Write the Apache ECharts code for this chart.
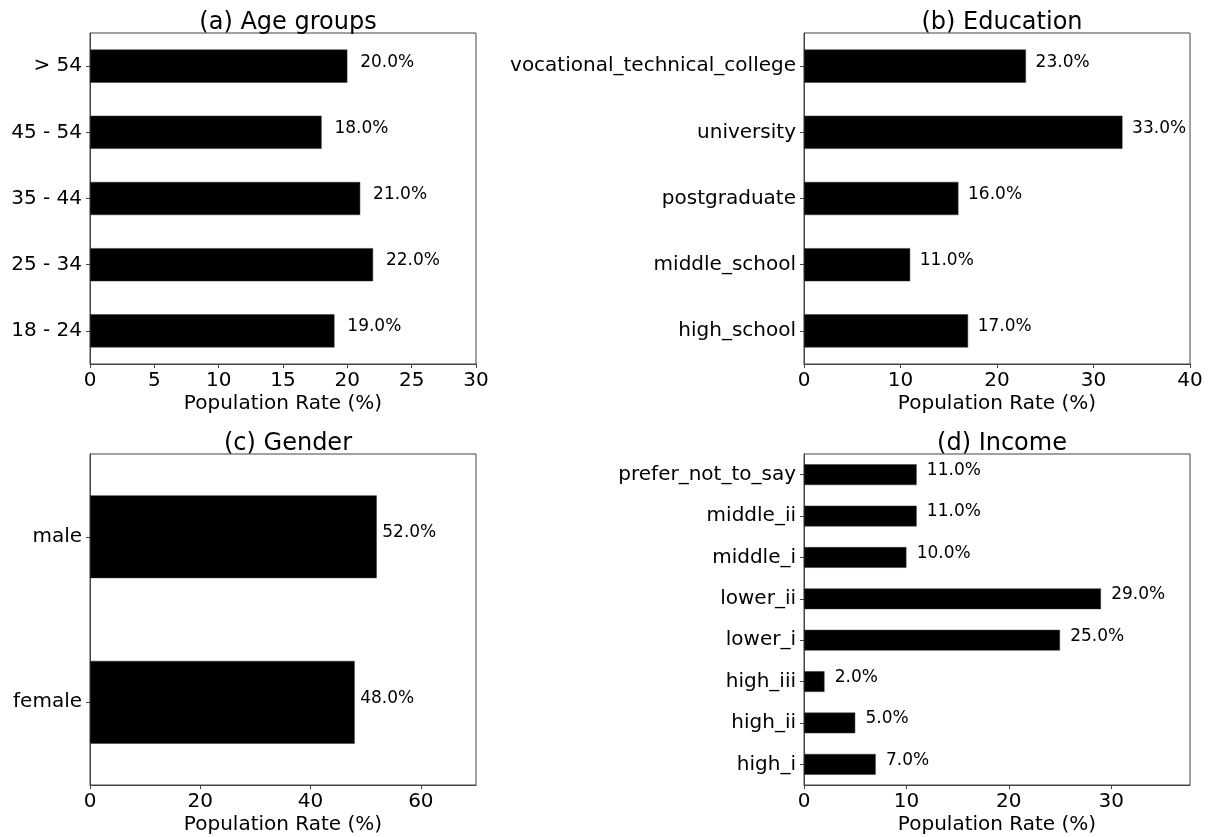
<!DOCTYPE html>
<html>
<head>
<meta charset="utf-8">
<script src="https://cdn.jsdelivr.net/npm/echarts@6/dist/echarts.min.js"></script>
<style>
  html, body { margin: 0; padding: 0; background: #fff; }
  #chart { width: 1210px; height: 837px; }
</style>
</head>
<body>
<div id="chart"></div>
<script>
// Survey demographics: share of respondents per group (%)
const ageCategories = ['18 - 24', '25 - 34', '35 - 44', '45 - 54', '> 54'];
const ageValues = [19, 22, 21, 18, 20];

const eduCategories = ['high_school', 'middle_school', 'postgraduate', 'university', 'vocational_technical_college'];
const eduValues = [17, 11, 16, 33, 23];

const genderCategories = ['female', 'male'];
const genderValues = [48, 52];

const incomeCategories = ['high_i', 'high_ii', 'high_iii', 'lower_i', 'lower_ii', 'middle_i', 'middle_ii', 'prefer_not_to_say'];
const incomeValues = [7, 5, 2, 25, 29, 10, 11, 11];

// x-axis ranges and tick labels per panel
const ageTicks = [0, 5, 10, 15, 20, 25, 30];
const eduTicks = [0, 10, 20, 30, 40];
const genderTicks = [0, 20, 40, 60];
const incomeTicks = [0, 10, 20, 30];
const axisMax = [30, 40, 70, 37.7];

const titles = ['(a) Age groups', '(b) Education', '(c) Gender', '(d) Income'];

const FONT = 'DejaVu Sans';
const panels = [
  { cats: ageCategories, vals: ageValues, ticks: ageTicks, left: 90, top: 33 },
  { cats: eduCategories, vals: eduValues, ticks: eduTicks, left: 804, top: 33 },
  { cats: genderCategories, vals: genderValues, ticks: genderTicks, left: 90, top: 454 },
  { cats: incomeCategories, vals: incomeValues, ticks: incomeTicks, left: 804, top: 454 }
];
const W = 386, H = 331;
const frameColor = '#444';

const option = {
  backgroundColor: '#fff',
  animation: false,
  textStyle: { fontFamily: FONT },
  title: panels.map((p, i) => ({
    text: titles[i],
    left: p.left + W / 2,
    top: p.top - 27,
    textAlign: 'center',
    textStyle: { fontFamily: FONT, fontSize: 24, fontWeight: 'normal', color: '#000' }
  })),
  grid: panels.map(p => ({
    left: p.left, top: p.top, width: W, height: H,
    show: true, borderColor: frameColor, borderWidth: 1, backgroundColor: 'transparent',
    containLabel: false
  })),
  xAxis: panels.map((p, i) => ({
    type: 'value', gridIndex: i, min: 0, max: axisMax[i],
    name: 'Population Rate (%)', nameLocation: 'middle', nameGap: 30,
    nameTextStyle: { fontFamily: FONT, fontSize: 20, color: '#000' },
    axisLine: { show: true, lineStyle: { color: frameColor, width: 1 } },
    axisTick: { show: true, length: 4, lineStyle: { color: frameColor }, customValues: p.ticks },
    axisLabel: { fontFamily: FONT, fontSize: 20, color: '#000', margin: 7, customValues: p.ticks },
    splitLine: { show: false }
  })),
  yAxis: panels.map((p, i) => ({
    type: 'category', gridIndex: i, data: p.cats,
    axisLine: { show: true, lineStyle: { color: frameColor, width: 1 } },
    axisTick: { show: true, length: 4, alignWithLabel: true, lineStyle: { color: frameColor } },
    axisLabel: { fontFamily: FONT, fontSize: 20, color: '#000', margin: 8, padding: [2, 0, 0, 0] },
    splitLine: { show: false }
  })),
  series: panels.map((p, i) => ({
    type: 'bar', xAxisIndex: i, yAxisIndex: i, data: p.vals,
    barWidth: '50%',
    itemStyle: { color: '#000', borderColor: '#333', borderWidth: 0.5 },
    label: {
      show: true, position: 'right',
      distance: W / axisMax[i],   // one data unit to the right of the bar end
      offset: [0, -4],
      fontFamily: FONT, fontSize: 17, color: '#000',
      formatter: d => d.value.toFixed(1) + '%'
    }
  }))
};

const chart = echarts.init(document.getElementById('chart'), null, { renderer: 'canvas' });
chart.setOption(option);
</script>
</body>
</html>
